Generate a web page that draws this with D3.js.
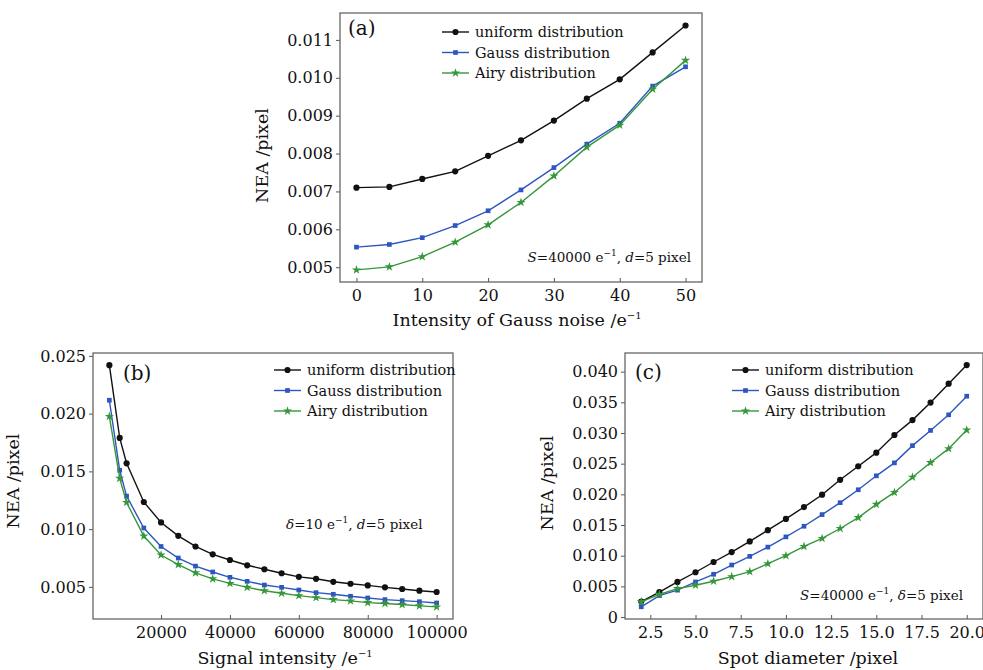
<!DOCTYPE html>
<html>
<head>
<meta charset="utf-8">
<title>NEA vs noise, signal and spot diameter</title>
<script src="https://d3js.org/d3.v7.min.js"></script>
<style>
  body { margin: 0; background: #fff; }
  svg { font-family: "DejaVu Serif", serif; display: block; }
  .frame { fill: none; stroke: #666; stroke-width: 1.3px; }
  .axis path { display: none; }
  .axis line { stroke: #555; }
  .axis text { font-size: 16px; fill: #111; font-family: "DejaVu Serif", serif; }
  .series { fill: none; stroke-width: 1.4px; }
  .legend text { font-size: 14.5px; fill: #111; }
  .note { font-size: 13.5px; fill: #111; }
  .alabel { font-size: 17.5px; fill: #111; }
  .plabel { font-size: 20px; fill: #111; }
</style>
</head>
<body>
<svg width="983" height="670"></svg>
<script>
// (a) NEA vs intensity of Gauss noise
const noiseX = [0, 5, 10, 15, 20, 25, 30, 35, 40, 45, 50];
const aUniform = [0.00710, 0.00712, 0.00733, 0.00753, 0.00794, 0.00835, 0.00887, 0.00945, 0.00996, 0.01067, 0.01138];
const aGauss   = [0.00553, 0.00560, 0.00578, 0.00610, 0.00649, 0.00704, 0.00763, 0.00825, 0.00880, 0.00978, 0.01029];
const aAiry    = [0.00493, 0.00501, 0.00528, 0.00566, 0.00612, 0.00671, 0.00741, 0.00817, 0.00875, 0.00970, 0.01046];

// (b) NEA vs signal intensity
const signalX = [5000, 8000, 10000, 15000, 20000, 25000, 30000, 35000, 40000, 45000, 50000,
                 55000, 60000, 65000, 70000, 75000, 80000, 85000, 90000, 95000, 100000];
const bUniform = [0.0242, 0.0179, 0.0157, 0.01235, 0.01058, 0.00942, 0.0085, 0.00782, 0.00733, 0.00687, 0.00653,
                  0.00618, 0.00587, 0.0057, 0.00544, 0.00527, 0.00513, 0.00496, 0.00482, 0.00467, 0.00456];
const bGauss   = [0.02116, 0.0151, 0.01286, 0.0101, 0.0085, 0.0075, 0.0068, 0.00629, 0.00583, 0.00548, 0.00516,
                  0.00496, 0.00473, 0.0045, 0.00436, 0.00419, 0.00404, 0.0039, 0.00381, 0.00372, 0.00361];
const bAiry    = [0.01976, 0.0144, 0.01231, 0.0094, 0.00776, 0.00693, 0.00622, 0.0057, 0.0053, 0.00496, 0.00467,
                  0.00445, 0.00424, 0.00407, 0.0039, 0.00379, 0.00364, 0.00356, 0.00347, 0.00336, 0.00327];

// (c) NEA vs spot diameter
const spotX = [2, 3, 4, 5, 6, 7, 8, 9, 10, 11, 12, 13, 14, 15, 16, 17, 18, 19, 20];
const cUniform = [0.00253, 0.00405, 0.00572, 0.0073, 0.00897, 0.01059, 0.01232, 0.01416, 0.016, 0.01793,
                  0.01994, 0.02237, 0.02458, 0.0268, 0.02967, 0.0321, 0.03496, 0.03804, 0.04107];
const cGauss   = [0.00167, 0.0035, 0.00438, 0.00572, 0.00697, 0.00848, 0.00989, 0.0114, 0.01307, 0.0148,
                  0.0167, 0.01864, 0.02075, 0.02302, 0.02513, 0.02794, 0.03042, 0.03296, 0.036];
const cAiry    = [0.00248, 0.0037, 0.00464, 0.00519, 0.00584, 0.00658, 0.0074, 0.00869, 0.01, 0.01151,
                  0.01281, 0.01443, 0.01621, 0.01837, 0.02031, 0.0228, 0.02518, 0.02745, 0.03048];

const seriesNames = ["uniform distribution", "Gauss distribution", "Airy distribution"];
const seriesColors = ["#111111", "#2e56c0", "#35963a"];
const seriesSymbols = [d3.symbolCircle, d3.symbolSquare, d3.symbolStar];
const symbolSizes = [30, 22, 26];

const svg = d3.select("svg");
svg.append("rect").attr("width", 983).attr("height", 670).attr("fill", "#fff");

function drawPanel(p) {
  const g = svg.append("g").attr("transform", `translate(${p.left},${p.top})`);
  const w = p.width, h = p.height;

  const x = d3.scaleLinear().domain(p.xDomain).range([0, w]);
  const y = d3.scaleLinear().domain(p.yDomain).range([h, 0]);

  g.append("g")
    .attr("class", "axis")
    .attr("transform", `translate(0,${h})`)
    .call(d3.axisBottom(x).tickValues(p.xTicks).tickSize(-4).tickSizeOuter(0).tickPadding(8).tickFormat(p.xFormat));

  g.append("g")
    .attr("class", "axis")
    .call(d3.axisLeft(y).tickValues(p.yTicks).tickSize(4).tickSizeOuter(0).tickPadding(3).tickFormat(p.yFormat));

  g.append("rect").attr("class", "frame").attr("width", w).attr("height", h);

  p.series.forEach((vals, i) => {
    const pts = p.xs.map((xv, j) => [xv, vals[j]]);
    g.append("path")
      .datum(pts)
      .attr("class", "series")
      .attr("stroke", seriesColors[i])
      .attr("d", d3.line().x(d => x(d[0])).y(d => y(d[1])));
    g.selectAll(null)
      .data(pts)
      .enter()
      .append("path")
      .attr("transform", d => `translate(${x(d[0])},${y(d[1])})`)
      .attr("d", d3.symbol().type(seriesSymbols[i]).size(symbolSizes[i]))
      .attr("fill", seriesColors[i]);
  });

  // legend
  const legend = g.selectAll(".legend")
    .data(seriesNames)
    .enter()
    .append("g")
    .attr("class", "legend")
    .attr("transform", (d, i) => `translate(${p.legendX},${p.legendY + i * 20.5})`);
  legend.append("line")
    .attr("x1", 0).attr("x2", 27)
    .attr("stroke", (d, i) => seriesColors[i])
    .attr("stroke-width", 1.4);
  legend.append("path")
    .attr("transform", "translate(13.5,0)")
    .attr("d", (d, i) => d3.symbol().type(seriesSymbols[i]).size(symbolSizes[i])())
    .attr("fill", (d, i) => seriesColors[i]);
  legend.append("text")
    .attr("x", 33)
    .attr("dy", "0.35em")
    .text(d => d);

  // panel tag
  g.append("text").attr("class", "plabel")
    .attr("x", p.tagX).attr("y", p.tagY)
    .text(p.tag);

  // note with superscripts and italic symbols
  const note = g.append("text").attr("class", "note")
    .attr("x", p.noteX).attr("y", p.noteY)
    .attr("text-anchor", p.noteAnchor);
  p.note.forEach(part => {
    const t = note.append("tspan").text(part.t);
    if (part.i) t.attr("font-style", "italic");
    if (part.sup) t.attr("font-size", "9px").attr("dy", "-6");
    if (part.down) t.attr("dy", "6");
  });

  // axis labels
  const xl = g.append("text").attr("class", "alabel")
    .attr("x", w / 2 + p.xLabelShift).attr("y", h + p.xLabelY)
    .attr("text-anchor", "middle");
  xl.append("tspan").text(p.xLabel);
  if (p.xLabelSup) {
    xl.append("tspan").text("\u22121").attr("font-size", "10px").attr("dy", "-7");
  }

  g.append("text").attr("class", "alabel")
    .attr("transform", `translate(${p.yLabelX},${h / 2 + p.yLabelShift}) rotate(-90)`)
    .attr("text-anchor", "middle")
    .text("NEA /pixel");
}

const fmt3 = d3.format(".3f");

drawPanel({
  left: 340, top: 13, width: 362, height: 269,
  xs: noiseX, series: [aUniform, aGauss, aAiry],
  xDomain: [-2.5, 52.5], yDomain: [0.00461, 0.01171],
  xTicks: [0, 10, 20, 30, 40, 50], xFormat: d3.format("d"),
  yTicks: d3.range(0.005, 0.0115, 0.001), yFormat: fmt3,
  legendX: 102, legendY: 19,
  tag: "(a)", tagX: 8, tagY: 22,
  note: [{t: "S", i: true}, {t: "=40000  e"}, {t: "\u22121", sup: true}, {t: ", ", down: true}, {t: "d", i: true}, {t: "=5 pixel"}],
  noteX: 351, noteY: 249, noteAnchor: "end",
  xLabel: "Intensity of Gauss noise /e", xLabelSup: true, xLabelShift: -4, xLabelY: 44,
  yLabelX: -72, yLabelShift: 8
});

drawPanel({
  left: 93, top: 353, width: 360, height: 266,
  xs: signalX, series: [bUniform, bGauss, bAiry],
  xDomain: [250, 104750], yDomain: [0.00222, 0.02525],
  xTicks: [20000, 40000, 60000, 80000, 100000], xFormat: d3.format("d"),
  yTicks: [0.005, 0.010, 0.015, 0.020, 0.025], yFormat: fmt3,
  legendX: 181, legendY: 17,
  tag: "(b)", tagX: 30, tagY: 27,
  note: [{t: "\u03b4", i: true}, {t: "=10 e"}, {t: "\u22121", sup: true}, {t: ", ", down: true}, {t: "d", i: true}, {t: "=5 pixel"}],
  noteX: 193, noteY: 176, noteAnchor: "start",
  xLabel: "Signal intensity /e", xLabelSup: true, xLabelShift: 12, xLabelY: 45,
  yLabelX: -74, yLabelShift: -5
});

drawPanel({
  left: 625, top: 353, width: 358, height: 266,
  xs: spotX, series: [cUniform, cGauss, cAiry],
  xDomain: [1.1, 20.9], yDomain: [-0.00032, 0.04304],
  xTicks: d3.range(2.5, 20.01, 2.5), xFormat: d3.format(".1f"),
  yTicks: d3.range(0, 0.0401, 0.005), yFormat: d => d === 0 ? "0" : fmt3(d),
  legendX: 107, legendY: 17,
  tag: "(c)", tagX: 10, tagY: 26,
  note: [{t: "S", i: true}, {t: "=40000 e"}, {t: "\u22121", sup: true}, {t: ", ", down: true}, {t: "\u03b4", i: true}, {t: "=5 pixel"}],
  noteX: 338, noteY: 247, noteAnchor: "end",
  xLabel: "Spot diameter /pixel", xLabelSup: false, xLabelShift: 4, xLabelY: 45,
  yLabelX: -72, yLabelShift: -3
});
</script>
</body>
</html>
